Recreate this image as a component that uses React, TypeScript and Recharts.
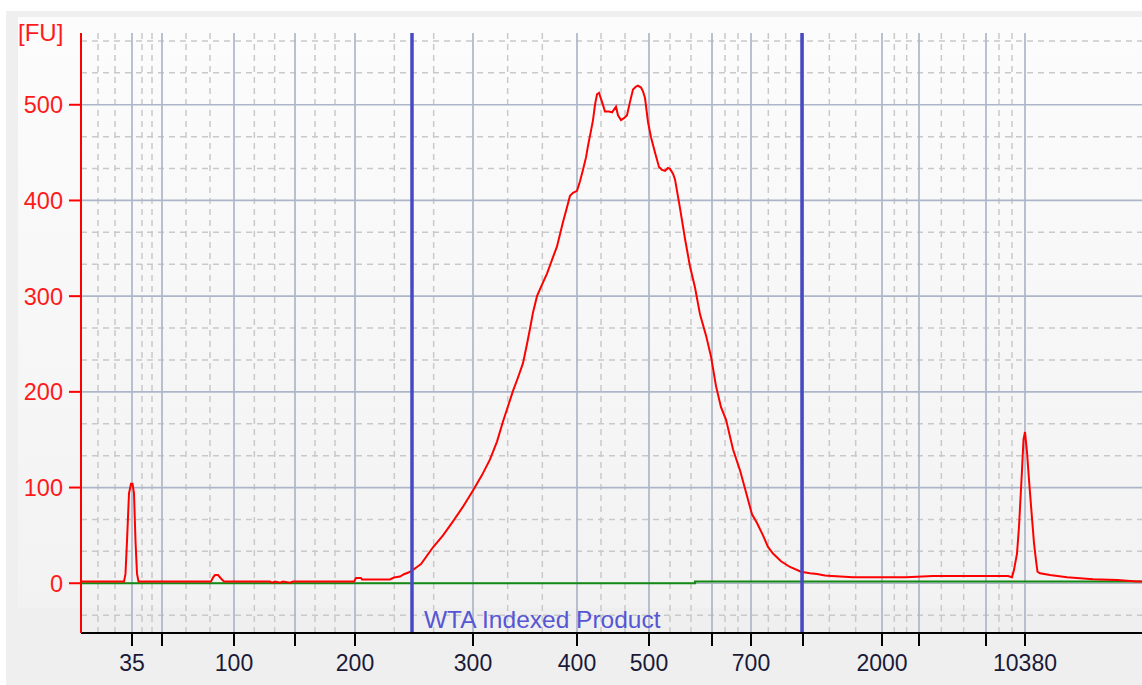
import React from 'react';
import {
    ComposedChart,
    Line,
    XAxis,
    YAxis,
    CartesianGrid,
    ReferenceLine
} from 'recharts';

// migration time (s) and fluorescence (FU) of the sample trace
const traceTime = [
    20.0, 21.9, 24.3, 24.45, 24.6, 24.8, 25.0, 25.15, 25.3, 25.45, 25.6, 25.75,
    27.9, 30.9, 33.0, 33.2, 33.4, 33.7, 34.0, 34.3, 36.9, 38.9, 39.1, 39.4, 39.9,
    40.2, 40.9, 41.2, 41.9, 45.9, 47.3, 47.5, 48.0, 48.1, 49.4, 50.9, 51.3, 51.9,
    52.3, 52.8, 53.2, 53.6, 54.0, 55.2, 56.2, 57.2, 58.2, 59.2, 60.1, 60.9, 61.6,
    62.2, 62.7, 63.2, 63.7, 64.2, 64.6, 64.9, 65.2, 65.6, 66.1, 66.6, 67.1, 67.6,
    68.2, 68.6, 68.9, 69.2, 69.6, 69.9, 70.2, 70.5, 70.7, 71.0, 71.2, 71.4, 71.6,
    71.8, 72.1, 72.4, 72.8, 73.1, 73.3, 73.5, 73.7, 74.0, 74.3, 74.6, 74.9, 75.2,
    75.5, 75.7, 76.0, 76.2, 76.4, 76.7, 77.0, 77.4, 77.8, 78.1, 78.4, 78.7, 78.9,
    79.2, 79.4, 79.9, 80.4, 80.9, 81.4, 81.9, 82.5, 83.0, 83.5, 84.0, 84.5, 85.2,
    85.9, 86.5, 87.1, 87.6, 88.2, 88.7, 89.2, 90.0, 90.9, 92.0, 92.9, 93.6, 94.4,
    95.1, 97.2, 99.9, 102.5, 105.2, 107.9, 110.9, 112.7, 113.1, 113.3, 113.6,
    113.8, 114.1, 114.25, 114.4, 114.6, 114.8, 115.1, 115.3, 115.5, 115.65, 115.9,
    116.9, 118.6, 121.2, 123.6, 125.6, 126.1
];
const traceFU = [
    1.7, 1.7, 1.7, 10, 44, 94, 104, 104, 94, 44, 10, 1.7,
    1.7, 1.7, 1.7, 6, 8.5, 8.5, 5, 1.7, 1.7, 1.7, 0.5, 1.7, 0.5,
    1.7, 0.5, 1.7, 1.7, 1.7, 1.7, 5.5, 5.5, 4, 4, 4, 6, 7,
    9.4, 11.5, 14, 17, 20, 37.6, 50, 64.7, 80, 97, 113, 129.4, 148,
    169, 185, 201, 215, 230, 250, 266, 283, 300, 312, 323.6, 338, 352,
    377.6, 393, 405, 408, 410, 420, 432, 445, 457, 473, 484, 500, 511,
    512.5, 503, 493, 493, 492, 495, 498, 489, 484, 486, 489, 503, 516,
    519, 520, 518, 514, 507, 482, 466, 450, 435, 432, 431, 434, 433,
    428, 422, 392, 360, 331, 309, 281, 259, 237, 206, 184, 171, 140,
    118, 95, 72, 63, 50, 38, 31, 23, 17, 12, 10.5, 9.7, 8,
    7.6, 6.2, 6.2, 6.2, 7.6, 7.6, 7.6, 7.6, 6.3, 14, 31,
    59, 118, 150, 158, 137, 108, 68, 42, 24, 12, 10.4,
    8.7, 6.3, 4.2, 3.5, 1.7, 1.7
];

// baseline (green)
const baseTime = [20.0, 81.4, 81.4, 126.1];
const baseFU = [0, 0, 1.8, 1.8];

// ladder peaks: migration time and size in bp
const ladderTime = [25.1, 28.1, 35.3, 41.4, 47.4, 59.2, 69.6, 76.8, 83.1, 87.0, 92.2, 100.1, 103.8, 110.5, 114.4];
const ladderBp = [35, 50, 100, 150, 200, 300, 400, 500, 600, 700, 1000, 2000, 3000, 7000, 10380];
const shownBp = [35, 100, 200, 300, 400, 500, 700, 2000, 10380];

const yTicks = [0, 100, 200, 300, 400, 500];

// region markers
const regionStart = 53.1;
const regionEnd = 92.1;
const regionName = 'WTA Indexed Product';

const FONT = '"Liberation Sans", Arial, sans-serif';

const traceData = traceTime.map((t, i) => ({ t, v: traceFU[i] }));
const baseData = baseTime.map((t, i) => ({ t, v: baseFU[i] }));

// minor grid at thirds between ladder peaks
const minorX: number[] = [];
ladderTime.forEach((t, i) => {
    const prev = i === 0 ? 20 : ladderTime[i - 1];
    minorX.push(prev + (t - prev) / 3, prev + (2 * (t - prev)) / 3);
});
const minorY: number[] = [];
for (let k = -1; k <= 17; k++) {
    if (k % 3 !== 0) minorY.push((k * 100) / 3);
}

const RegionLabel = (props: any) => {
    const vb = props.viewBox || {};
    return (
        <text
            x={vb.x + 12}
            y={vb.y + vb.height - 5}
            fill="#5656d4"
            fontSize={24.5}
            fontFamily={FONT}
        >
            {regionName}
        </text>
    );
};

export default function App() {
    return (
        <div style={{ position: 'fixed', left: 0, top: 0, width: 1142, height: 685, background: '#ffffff', overflow: 'hidden' }}>
            <div style={{ position: 'absolute', left: 6, top: 11, right: 0, bottom: 0, background: '#efefef' }} />
            <div
                style={{
                    position: 'absolute',
                    left: 18,
                    top: 17,
                    right: 0,
                    height: 591,
                    background: 'linear-gradient(#fcfcfc, #f2f2f2)'
                }}
            />
            <div
                style={{
                    position: 'absolute',
                    left: 18,
                    top: 20,
                    color: '#ff1a1a',
                    fontSize: 24,
                    fontFamily: FONT,
                    lineHeight: '26px'
                }}
            >
                [FU]
            </div>
            <div style={{ position: 'absolute', left: 0, top: 0 }}>
                <ComposedChart width={1142} height={685} margin={{ top: 33, right: 0, bottom: 12, left: 21 }}>
                    <CartesianGrid
                        horizontalValues={minorY}
                        verticalValues={minorX}
                        stroke="#c9c9c9"
                        strokeWidth={1.5}
                        strokeDasharray="6 5"
                    />
                    <CartesianGrid
                        horizontalValues={yTicks}
                        verticalValues={ladderTime}
                        stroke="#adb6c8"
                        strokeWidth={1.7}
                    />
                    <XAxis
                        type="number"
                        dataKey="t"
                        domain={[20, 126.1]}
                        allowDataOverflow
                        ticks={ladderTime}
                        interval={0}
                        tickFormatter={(v: number) => {
                            const bp = ladderBp[ladderTime.indexOf(v)];
                            return shownBp.includes(bp) ? String(bp) : '';
                        }}
                        height={40}
                        tickSize={13}
                        tickMargin={9}
                        axisLine={{ stroke: '#000000', strokeWidth: 2 }}
                        tickLine={{ stroke: '#000000', strokeWidth: 2 }}
                        tick={{ fill: '#1a1a38', fontSize: 23, fontFamily: FONT }}
                    />
                    <YAxis
                        type="number"
                        domain={[-52, 575]}
                        allowDataOverflow
                        ticks={yTicks}
                        interval={0}
                        width={60}
                        tickSize={12}
                        tickMargin={6}
                        axisLine={{ stroke: '#ff0000', strokeWidth: 2 }}
                        tickLine={{ stroke: '#ff0000', strokeWidth: 2 }}
                        tick={{ fill: '#ff1a1a', fontSize: 23.5, fontFamily: FONT }}
                    />
                    <Line
                        data={baseData}
                        dataKey="v"
                        type="linear"
                        stroke="#138a13"
                        strokeWidth={2.2}
                        dot={false}
                        activeDot={false}
                        isAnimationActive={false}
                    />
                    <Line
                        data={traceData}
                        dataKey="v"
                        type="linear"
                        stroke="#ff0000"
                        strokeWidth={2}
                        dot={false}
                        activeDot={false}
                        isAnimationActive={false}
                    />
                    <ReferenceLine x={regionStart} stroke="#4848c4" strokeWidth={3.5} label={<RegionLabel />} />
                    <ReferenceLine x={regionEnd} stroke="#4848c4" strokeWidth={3.5} />
                </ComposedChart>
            </div>
        </div>
    );
}
